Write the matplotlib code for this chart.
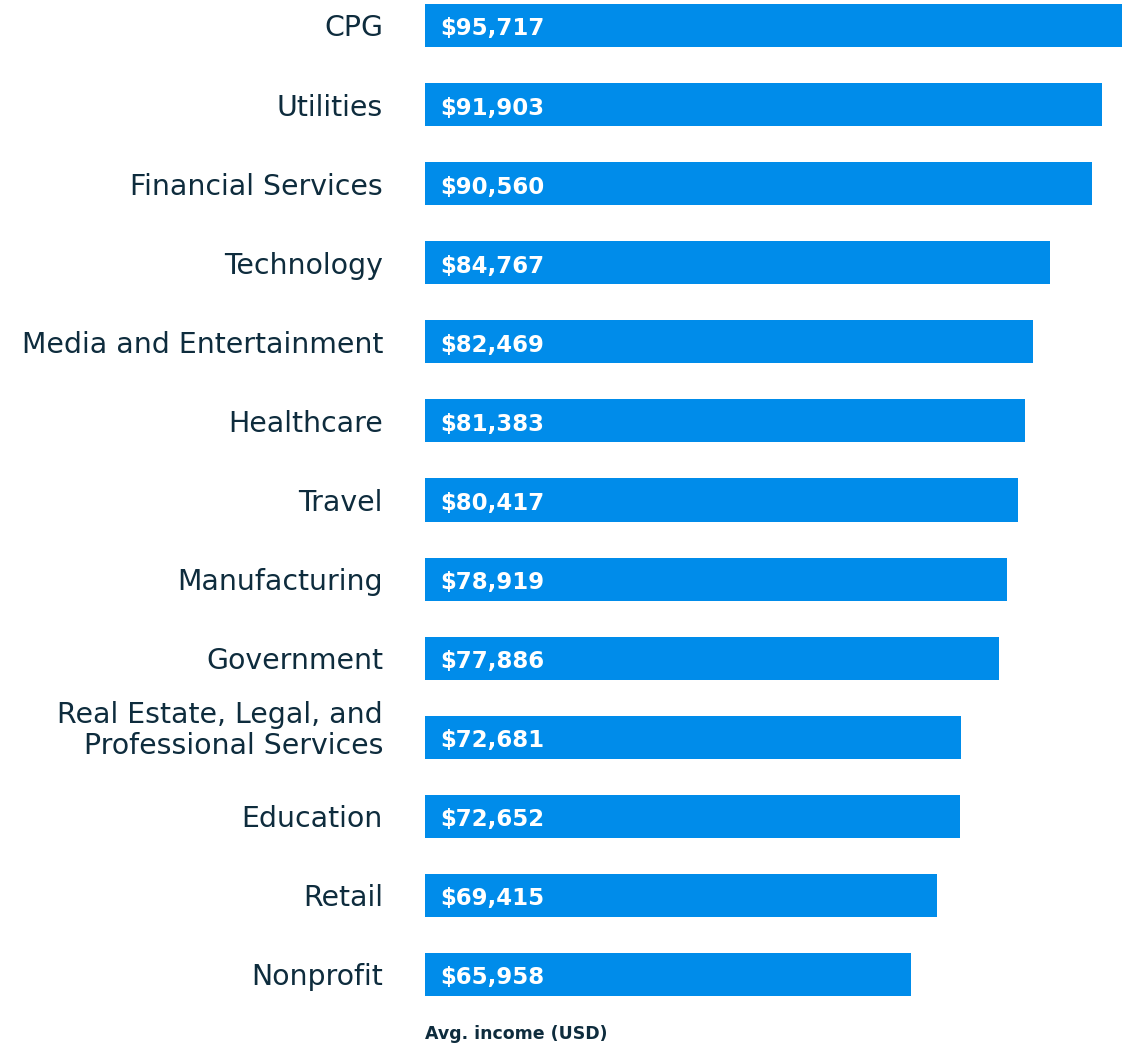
import matplotlib.pyplot as plt

industries = [
    "CPG", "Utilities", "Financial Services", "Technology",
    "Media and Entertainment", "Healthcare", "Travel", "Manufacturing",
    "Government", "Real Estate, Legal, and\nProfessional Services",
    "Education", "Retail", "Nonprofit",
]
avg_income = [
    95717, 91903, 90560, 84767, 82469, 81383, 80417,
    78919, 77886, 72681, 72652, 69415, 65958,
]

BAR_COLOR = "#008CEA"
TEXT_COLOR = "#0E2C3D"

plt.rcParams["font.family"] = ["DejaVu Sans"]

fig = plt.figure(figsize=(11.22, 10.47), dpi=100)
# axes runs from the label gutter to the right edge; the widest bar runs off it
ax = fig.add_axes([425 / 1122, 47 / 1047, 1 - 425 / 1122, 1000 / 1047])

pos = list(range(len(industries)))
ax.barh(pos, avg_income, height=0.545, color=BAR_COLOR)
ax.set_xlim(0, 94570)
ax.set_ylim(12.323, -0.3224)
ax.axis("off")

for i, (name, v) in enumerate(zip(industries, avg_income)):
    # two-line labels sit a little above the bar centre
    dy = 7 if "\n" in name else -3
    ax.annotate(name, (0, i), xytext=(-42, dy), textcoords="offset pixels",
                ha="right", va="center", fontsize=20.4, color=TEXT_COLOR,
                linespacing=1.12, annotation_clip=False)
    ax.annotate(f"${v:,}", (0, i), xytext=(15, -1), textcoords="offset pixels",
                ha="left", va="center_baseline", color="white", fontsize=16.5,
                fontweight="bold")

fig.text(425 / 1122, 1 - 1034 / 1047, "Avg. income (USD)", ha="left", va="center",
         fontsize=12.5, fontweight="bold", color=TEXT_COLOR)

fig.savefig("out.png", dpi=100)
